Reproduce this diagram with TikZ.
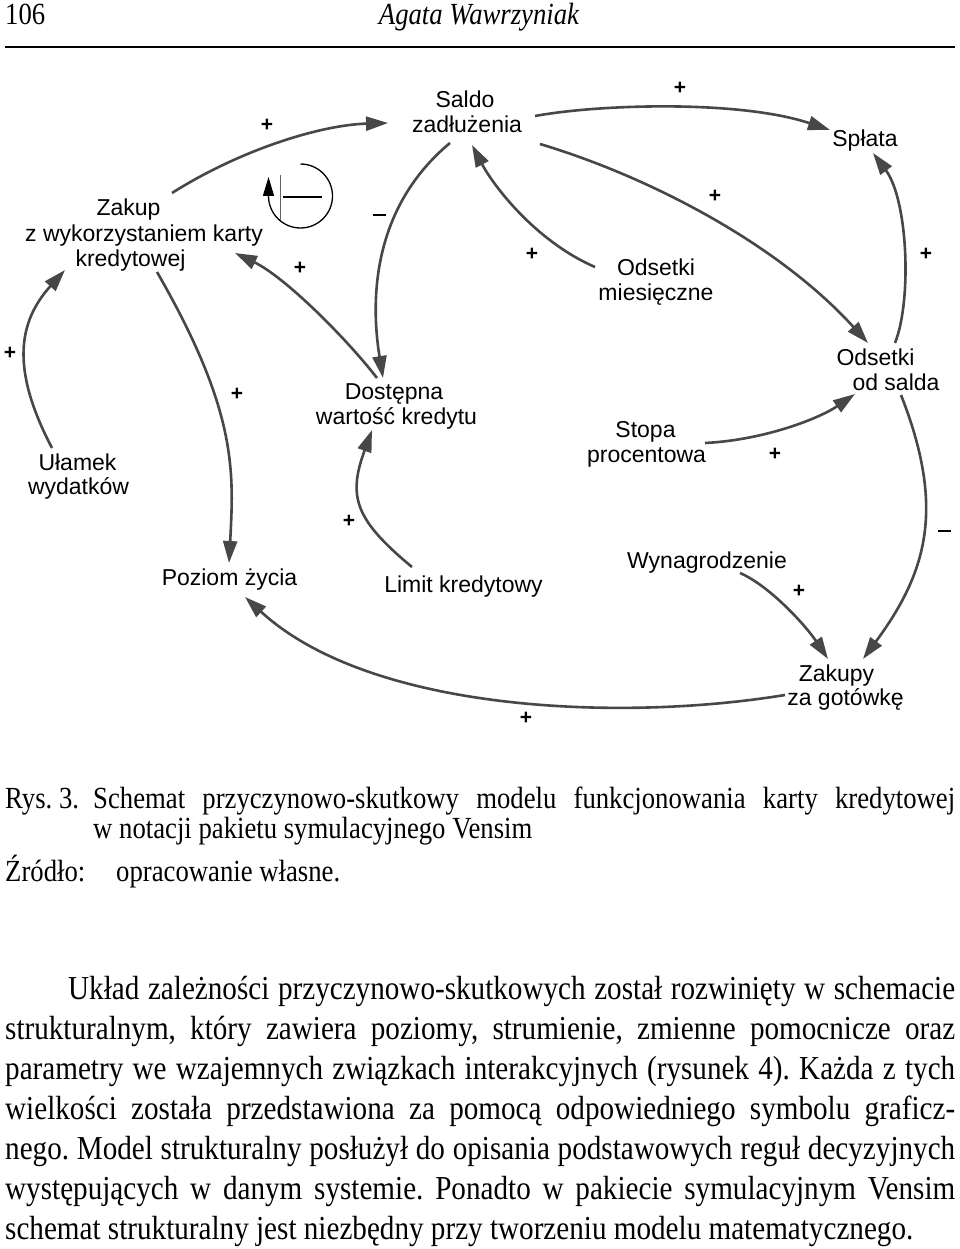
\documentclass[tikz,border=0pt]{standalone}
\usepackage{fontspec}
\setmainfont[FakeStretch=0.87]{Liberation Serif}
\newfontfamily\diagfont{Liberation Sans}
\usetikzlibrary{arrows.meta,calc}
\definecolor{lnkgray}{HTML}{474747}
\newcommand\justln[2]{\hbox to #1{#2}}
\frenchspacing
\begin{document}
\begin{tikzpicture}[x=1pt,y=-1pt,
  lbl/.style={font=\diagfont\fontsize{23}{25}\selectfont, inner sep=0pt, anchor=base},
  sgn/.style={font=\diagfont\bfseries\fontsize{21}{21}\selectfont, inner sep=0pt},
  lnk/.style={draw=lnkgray, line width=2.6pt, -{Triangle[length=22pt,width=14pt]}},
  txt/.style={font=\fontsize{30.7}{40}\selectfont, inner sep=0pt, anchor=base west},
  body/.style={font=\fontsize{33.5}{40}\selectfont, inner sep=0pt, anchor=base west}]
\useasboundingbox[fill=white] (0,0) rectangle (960,1249);

% header
\node[txt] (pg) at (5,25) {106};
\node[font=\itshape\fontsize{30.7}{40}\selectfont, inner sep=0pt, anchor=base] (au) at (479,25) {Agata Wawrzyniak};
\draw[line width=1.8pt] (5,47) -- (955,47);

% variables
\node[lbl] (zakupA) at (128.5,216) {Zakup};
\node[lbl] (zakupB) at (144,241) {z wykorzystaniem karty};
\node[lbl] (zakupC) at (130.5,266) {kredytowej};
\node[lbl] (saldoA) at (465,108) {Saldo};
\node[lbl] (saldoB) at (467,133) {zadłużenia};
\node[lbl] (splata) at (865,147) {Spłata};
\node[lbl] (odmA) at (656,276) {Odsetki};
\node[lbl] (odmB) at (656,300) {miesięczne};
\node[lbl] (odsA) at (875.5,365) {Odsetki};
\node[lbl] (odsB) at (896,390) {od salda};
\node[lbl] (dostA) at (394,399) {Dostępna};
\node[lbl] (dostB) at (396.5,424) {wartość kredytu};
\node[lbl] (ulamA) at (77.5,470) {Ułamek};
\node[lbl] (ulamB) at (78.5,494) {wydatków};
\node[lbl] (stopaA) at (645.5,437) {Stopa};
\node[lbl] (stopaB) at (646.5,462) {procentowa};
\node[lbl] (poziom) at (229.5,585) {Poziom życia};
\node[lbl] (limit) at (463.5,592) {Limit kredytowy};
\node[lbl] (wyn) at (707,568) {Wynagrodzenie};
\node[lbl] (zakupyA) at (836.5,681) {Zakupy};
\node[lbl] (zakupyB) at (845.5,705) {za gotówkę};

% links
\draw[lnk] ($(zakupA.base)+(172-128.5,193-216)$) .. controls (240,150) and (320,125) .. ($(saldoA.base)+(388-465,123-108)$);
\draw[lnk] ($(saldoA.base)+(535-465,116-108)$) .. controls (600,104) and (740,100) .. ($(splata.base)+(830-865,130-147)$);
\draw[lnk] ($(saldoB.base)+(540-467,144-133)$) .. controls (650,177) and (778,244) .. ($(odsA.base)+(868-875.5,343-365)$);
\draw[lnk] ($(odsA.base)+(895-875.5,343-365)$) .. controls (912,300) and (908,200) .. ($(splata.base)+(873-865,153-147)$);
\draw[lnk] ($(odmA.base)+(595-656,267-276)$) .. controls (535,241) and (493,185) .. ($(saldoB.base)+(472-467,145-133)$);
\draw[lnk] ($(saldoB.base)+(450-467,143-133)$) .. controls (373,207) and (370,298) .. ($(dostA.base)+(383-394,378-399)$);
\draw[lnk] ($(dostA.base)+(377-394,378-399)$) .. controls (346,338) and (285,277) .. ($(zakupB.base)+(235-144,253-241)$);
\draw[lnk] ($(zakupC.base)+(157-130.5,272-266)$) .. controls (237,411) and (234,470) .. ($(poziom.base)+(229-229.5,563-585)$);
\draw[lnk] ($(ulamA.base)+(52-77.5,448-470)$) .. controls (10.6,369) and (18,322) .. ($(zakupC.base)+(65-130.5,270-266)$);
\draw[lnk] ($(limit.base)+(412-463.5,567-592)$) .. controls (354,519) and (348,496) .. ($(dostB.base)+(372-396.5,430-424)$);
\draw[lnk] ($(stopaB.base)+(705-646.5,443-462)$) .. controls (765,440) and (820,418) .. ($(odsB.base)+(855-896,394-390)$);
\draw[lnk] ($(odsB.base)+(901-896,395-390)$) .. controls (945,507) and (928,571) .. ($(zakupyA.base)+(863-836.5,659-681)$);
\draw[lnk] ($(wyn.base)+(740-707,573-568)$) .. controls (770,586) and (806,626) .. ($(zakupyA.base)+(828-836.5,659-681)$);
\draw[lnk] ($(zakupyB.base)+(785-845.5,695-705)$) .. controls (620,722) and (370,712) .. ($(poziom.base)+(245-229.5,597-585)$);

% polarities
\node[sgn] (s1) at (267,125) {+};
\node[sgn] (s2) at (379,215) {\rule{13pt}{2.4pt}};
\node[sgn] (s3) at (300,268) {+};
\node[sgn] (s4) at (680,88) {+};
\node[sgn] (s5) at (715,196) {+};
\node[sgn] (s6) at (532,254) {+};
\node[sgn] (s7) at (926,254) {+};
\node[sgn] (s8) at (10,353) {+};
\node[sgn] (s9) at (237,394) {+};
\node[sgn] (s10) at (349,521) {+};
\node[sgn] (s11) at (775,454) {+};
\node[sgn] (s12) at (944,531) {\rule{13pt}{2.4pt}};
\node[sgn] (s13) at (799,591) {+};
\node[sgn] (s14) at (526,718) {+};

% loop symbol
\coordinate (loopc) at (300.5,196);
\draw[line width=1.3pt, -{Triangle[length=19pt,width=11pt]}] (loopc) ++(-90:32) arc[start angle=-90, end angle=180, radius=32] -- ++(0,-19);
\draw[line width=0.6pt, black!60] (280,175) -- (280,220);
\draw[line width=2.7pt] (283,197) -- (322,197);

% caption
\node[txt] (rys) at (5,808) {Rys. 3.};
\node[txt] (cap1) at (93,808) {\justln{862pt}{Schemat przyczynowo-skutkowy modelu funkcjonowania karty kredytowej}};
\node[txt] (cap2) at (93,838) {w notacji pakietu symulacyjnego Vensim};
\node[txt] (zr) at (5,881) {Źródło:};
\node[txt] (zr2) at (116,881) {opracowanie własne.};

% body
\node[body] (b1) at (68,999) {\justln{887pt}{Układ zależności przyczynowo-skutkowych został rozwinięty w schemacie}};
\node[body] (b2) at (5,1039) {\justln{950pt}{strukturalnym, który zawiera poziomy, strumienie, zmienne pomocnicze oraz}};
\node[body] (b3) at (5,1079) {\justln{950pt}{parametry we wzajemnych związkach interakcyjnych (rysunek 4). Każda z tych}};
\node[body] (b4) at (5,1119) {\justln{950pt}{wielkości została przedstawiona za pomocą odpowiedniego symbolu graficz-}};
\node[body] (b5) at (5,1159) {\justln{950pt}{nego. Model strukturalny posłużył do opisania podstawowych reguł decyzyjnych}};
\node[body] (b6) at (5,1199) {\justln{950pt}{występujących w danym systemie. Ponadto w pakiecie symulacyjnym Vensim}};
\node[body] (b7) at (5,1239) {schemat strukturalny jest niezbędny przy tworzeniu modelu matematycznego.};
\end{tikzpicture}
\end{document}
